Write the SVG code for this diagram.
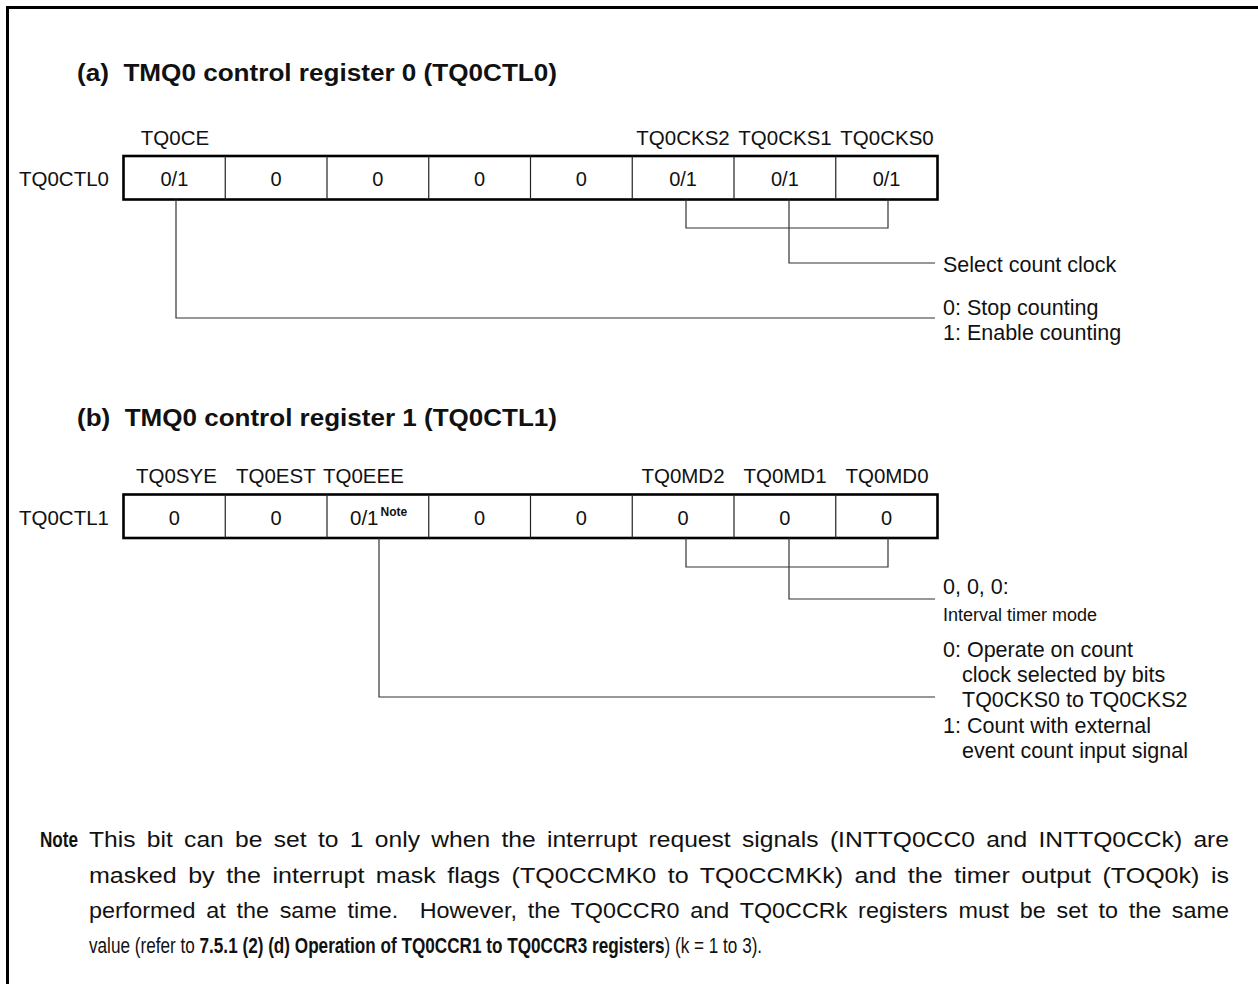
<svg xmlns="http://www.w3.org/2000/svg" width="1258" height="984" viewBox="0 0 1258 984">
  <style>
    text { font-family: "Liberation Sans", Arial, Helvetica, sans-serif; fill: #111; }
    .title { font-size: 23px; font-weight: bold; }
    .lbl { font-size: 20.5px; }
    .name { font-size: 20.5px; text-anchor: end; }
    .bit { font-size: 20.5px; text-anchor: middle; }
    .val { font-size: 20px; text-anchor: middle; }
    .desc { font-size: 21.5px; }
    .small { font-size: 18px; }
    .note { font-size: 22px; }
    .just { word-spacing: 4px; }
    .b { font-weight: bold; }
    .sup { font-size: 12px; font-weight: bold; }
    .frame { fill: none; stroke: #000; stroke-width: 3; }
    .reg { fill: #fff; stroke: #000; stroke-width: 2.6; }
    .cell { stroke: #222; stroke-width: 1.2; }
    .con { fill: none; stroke: #333; stroke-width: 1.2; }
  </style>

  <!-- page frame -->
  <rect class="frame" x="7.5" y="7.5" width="1400" height="1200"/>

  <!-- (a) TQ0CTL0 -->
  <text id="title-a" class="title" x="77" y="81" textLength="480" lengthAdjust="spacingAndGlyphs">(a)&#160; TMQ0 control register 0 (TQ0CTL0)</text>

  <g id="bits-a">
    <text class="bit" x="175" y="145">TQ0CE</text>
    <text class="bit" x="683" y="145">TQ0CKS2</text>
    <text class="bit" x="785" y="145">TQ0CKS1</text>
    <text class="bit" x="887" y="145">TQ0CKS0</text>
  </g>

  <g id="reg-tq0ctl0">
    <text class="name" x="109" y="186">TQ0CTL0</text>
    <rect class="reg" x="123.5" y="156" width="814" height="43.5"/>
    <path class="cell" d="M225.25,156V199.5M327,156V199.5M428.75,156V199.5M530.5,156V199.5M632.25,156V199.5M734,156V199.5M835.75,156V199.5"/>
    <text class="val" x="174.4" y="186">0/1</text>
    <text class="val" x="276.1" y="186">0</text>
    <text class="val" x="377.9" y="186">0</text>
    <text class="val" x="479.6" y="186">0</text>
    <text class="val" x="581.4" y="186">0</text>
    <text class="val" x="683.1" y="186">0/1</text>
    <text class="val" x="784.9" y="186">0/1</text>
    <text class="val" x="886.6" y="186">0/1</text>
  </g>

  <g id="desc-a">
    <text class="desc" x="943" y="272">Select count clock</text>
    <text class="desc" x="943" y="315">0: Stop counting</text>
    <text class="desc" x="943" y="340">1: Enable counting</text>
  </g>

  <!-- (b) TQ0CTL1 -->
  <text id="title-b" class="title" x="77" y="426" textLength="480" lengthAdjust="spacingAndGlyphs">(b)&#160; TMQ0 control register 1 (TQ0CTL1)</text>

  <g id="bits-b">
    <text class="lbl" x="136" y="483">TQ0SYE</text>
    <text class="lbl" x="236" y="483">TQ0EST</text>
    <text class="lbl" x="323" y="483">TQ0EEE</text>
    <text class="bit" x="683" y="483">TQ0MD2</text>
    <text class="bit" x="785" y="483">TQ0MD1</text>
    <text class="bit" x="887" y="483">TQ0MD0</text>
  </g>

  <g id="reg-tq0ctl1">
    <text class="name" x="109" y="525">TQ0CTL1</text>
    <rect class="reg" x="123.5" y="494.5" width="814" height="43.5"/>
    <path class="cell" d="M225.25,494.5V538M327,494.5V538M428.75,494.5V538M530.5,494.5V538M632.25,494.5V538M734,494.5V538M835.75,494.5V538"/>
    <text class="val" x="174.4" y="525">0</text>
    <text class="val" x="276.1" y="525">0</text>
    <text class="lbl" x="350" y="525" font-size="20px">0/1<tspan class="sup" dx="2" dy="-9">Note</tspan></text>
    <text class="val" x="479.6" y="525">0</text>
    <text class="val" x="581.4" y="525">0</text>
    <text class="val" x="683.1" y="525">0</text>
    <text class="val" x="784.9" y="525">0</text>
    <text class="val" x="886.6" y="525">0</text>
  </g>

  <g id="desc-b">
    <text class="desc" x="943" y="594">0, 0, 0:</text>
    <text class="small" x="943" y="621">Interval timer mode</text>
    <text class="desc" x="943" y="657">0: Operate on count</text>
    <text class="desc" x="962" y="682">clock selected by bits</text>
    <text class="desc" x="962" y="707">TQ0CKS0 to TQ0CKS2</text>
    <text class="desc" x="943" y="733">1: Count with external</text>
    <text class="desc" x="962" y="758">event count input signal</text>
  </g>

  <!-- connectors from bit fields to their descriptions -->
  <g id="connectors">
    <path class="con" d="M686,199.5V228H888V199.5"/>
    <path class="con" d="M789,199.5V263H935"/>
    <path class="con" d="M176,199.5V318H935"/>
    <path class="con" d="M686,538V567H888V538"/>
    <path class="con" d="M789,538V599H935"/>
    <path class="con" d="M379,538V697H935"/>
  </g>

  <!-- footnote: justified lines fill the text column -->
  <g id="note">
    <text class="note just" x="89" y="847" textLength="1140" lengthAdjust="spacingAndGlyphs">This bit can be set to 1 only when the interrupt request signals (INTTQ0CC0 and INTTQ0CCk) are</text>
    <text class="note just" x="89" y="883" textLength="1140" lengthAdjust="spacingAndGlyphs">masked by the interrupt mask flags (TQ0CCMK0 to TQ0CCMKk) and the timer output (TOQ0k) is</text>
    <text class="note just" x="89" y="918" textLength="1140" lengthAdjust="spacingAndGlyphs">performed at the same time.&#160; However, the TQ0CCR0 and TQ0CCRk registers must be set to the same</text>
    <!-- heading word and last line use a narrow setting -->
    <g transform="scale(0.7796,1)">
      <text class="note b" x="51.3" y="847">Note</text>
      <text class="note" x="114.16" y="953">value (refer to <tspan class="b">7.5.1 (2) (d) Operation of TQ0CCR1 to TQ0CCR3 registers</tspan>) (k = 1 to 3).</text>
    </g>
  </g>
</svg>
